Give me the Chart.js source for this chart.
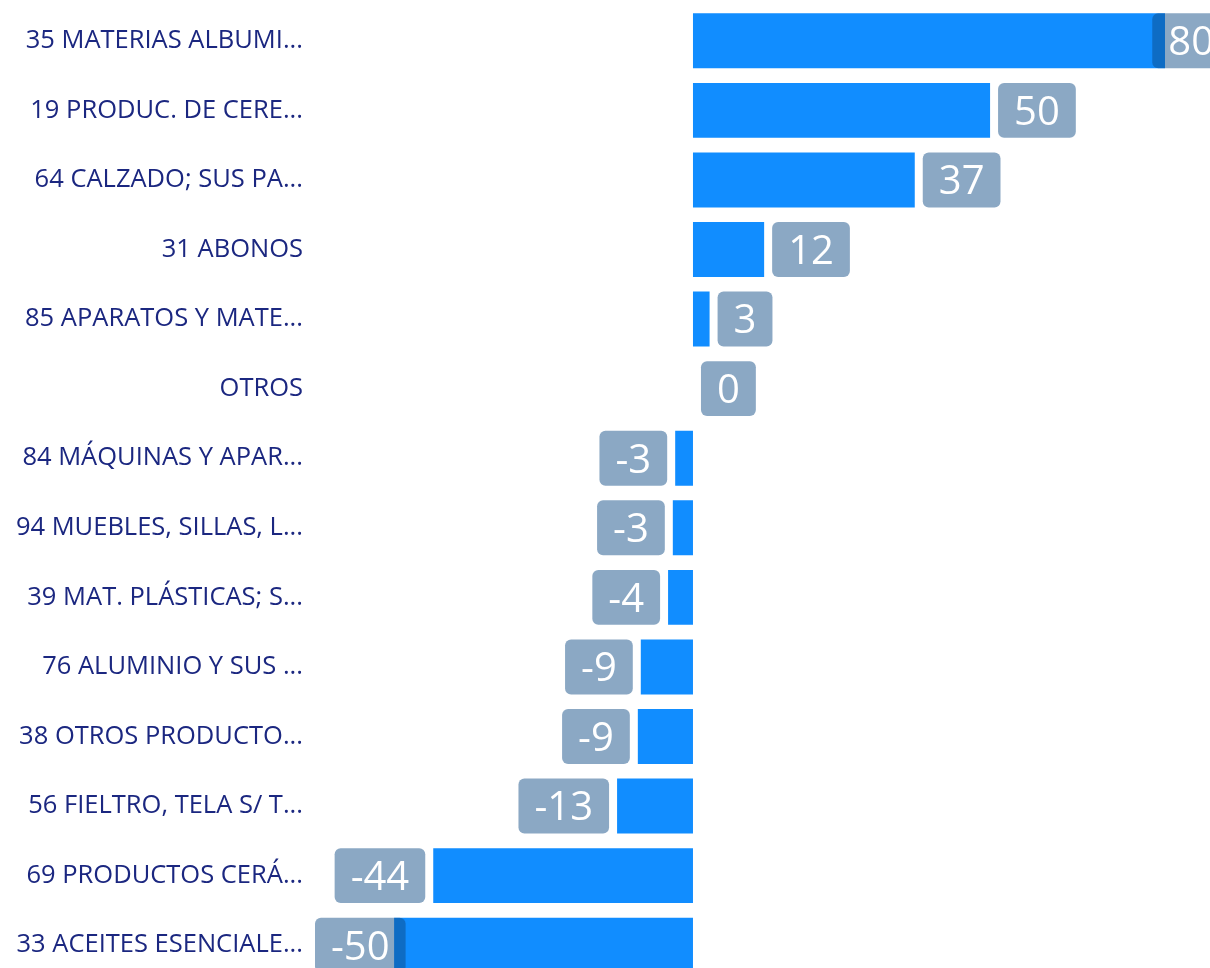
<!DOCTYPE html>
<html>
<head>
<meta charset="utf-8">
<script src="https://cdn.jsdelivr.net/npm/chart.js@4"></script>
<style>
html,body{margin:0;padding:0;overflow:hidden;background:#fff;width:1210px;height:968px;}
#wrap{position:absolute;left:0;top:0;width:1230px;height:980px;}
</style>
</head>
<body>
<div id="wrap"><canvas id="c" width="1230" height="980"></canvas></div>
<script>
const categories = [
  "35 MATERIAS ALBUMI...",
  "19 PRODUC. DE CERE...",
  "64 CALZADO; SUS PA...",
  "31 ABONOS",
  "85 APARATOS Y MATE...",
  "OTROS",
  "84 MÁQUINAS Y APAR...",
  "94 MUEBLES, SILLAS, L...",
  "39 MAT. PLÁSTICAS; S...",
  "76 ALUMINIO Y SUS ...",
  "38 OTROS PRODUCTO...",
  "56 FIELTRO, TELA S/ T...",
  "69 PRODUCTOS CERÁ...",
  "33 ACEITES ESENCIALE..."
];
const values = [79.6, 50.1, 37.4, 12.0, 2.8, 0, -3.0, -3.4, -4.2, -8.8, -9.3, -12.8, -43.8, -50.4];
const valueLabels = ["80","50","37","12","3","0","-3","-3","-4","-9","-9","-13","-44","-50"];
const axisMin = -63.74;
const axisMax = 90.56;

const FONT = "'Segoe UI', 'Open Sans', 'Noto Sans', sans-serif";

const labelPlugin = {
  id: 'boxLabels',
  afterDatasetsDraw(chart) {
    const ctx = chart.ctx;
    const area = chart.chartArea;
    const meta = chart.getDatasetMeta(0);
    ctx.save();
    ctx.font = "40px " + FONT;
    meta.data.forEach((bar, i) => {
      const txt = valueLabels[i];
      const h = bar.height;
      const tw = ctx.measureText(txt).width;
      const w = tw + 32;
      const gap = 8;
      let left;
      if (values[i] >= 0) {
        left = bar.x + gap;
      } else {
        left = bar.x - gap - w;
      }
      if (left + w > area.right) left = area.right - w;
      if (left < area.left) left = area.left;
      const top = bar.y - h / 2;
      ctx.fillStyle = 'rgba(13,74,132,0.48)';
      ctx.beginPath();
      ctx.roundRect(left, top, w, h, 6);
      ctx.fill();
      ctx.fillStyle = '#ffffff';
      ctx.textAlign = 'center';
      ctx.textBaseline = 'middle';
      ctx.fillText(txt, left + w / 2, bar.y + 3);
    });
    ctx.restore();
  }
};

new Chart(document.getElementById('c'), {
  type: 'bar',
  data: {
    labels: categories,
    datasets: [{
      data: values,
      backgroundColor: '#118DFF',
      borderWidth: 0,
      barPercentage: 0.79,
      categoryPercentage: 1.0
    }]
  },
  options: {
    indexAxis: 'y',
    responsive: false,
    animation: false,
    events: [],
    layout: { padding: { top: 6, bottom: 0, left: 0, right: 0 } },
    plugins: { legend: { display: false }, tooltip: { enabled: false } },
    scales: {
      x: { display: false, min: axisMin, max: axisMax },
      y: {
        grid: { display: false, drawTicks: false },
        border: { display: false },
        afterFit(scale) { scale.width = 315; scale.paddingTop = 0; scale.paddingBottom = 0; },
        ticks: {
          padding: 12,
          color: '#1B2780',
          font: { family: FONT, size: 25.5 }
        }
      }
    }
  },
  plugins: [labelPlugin]
});
</script>
</body>
</html>
